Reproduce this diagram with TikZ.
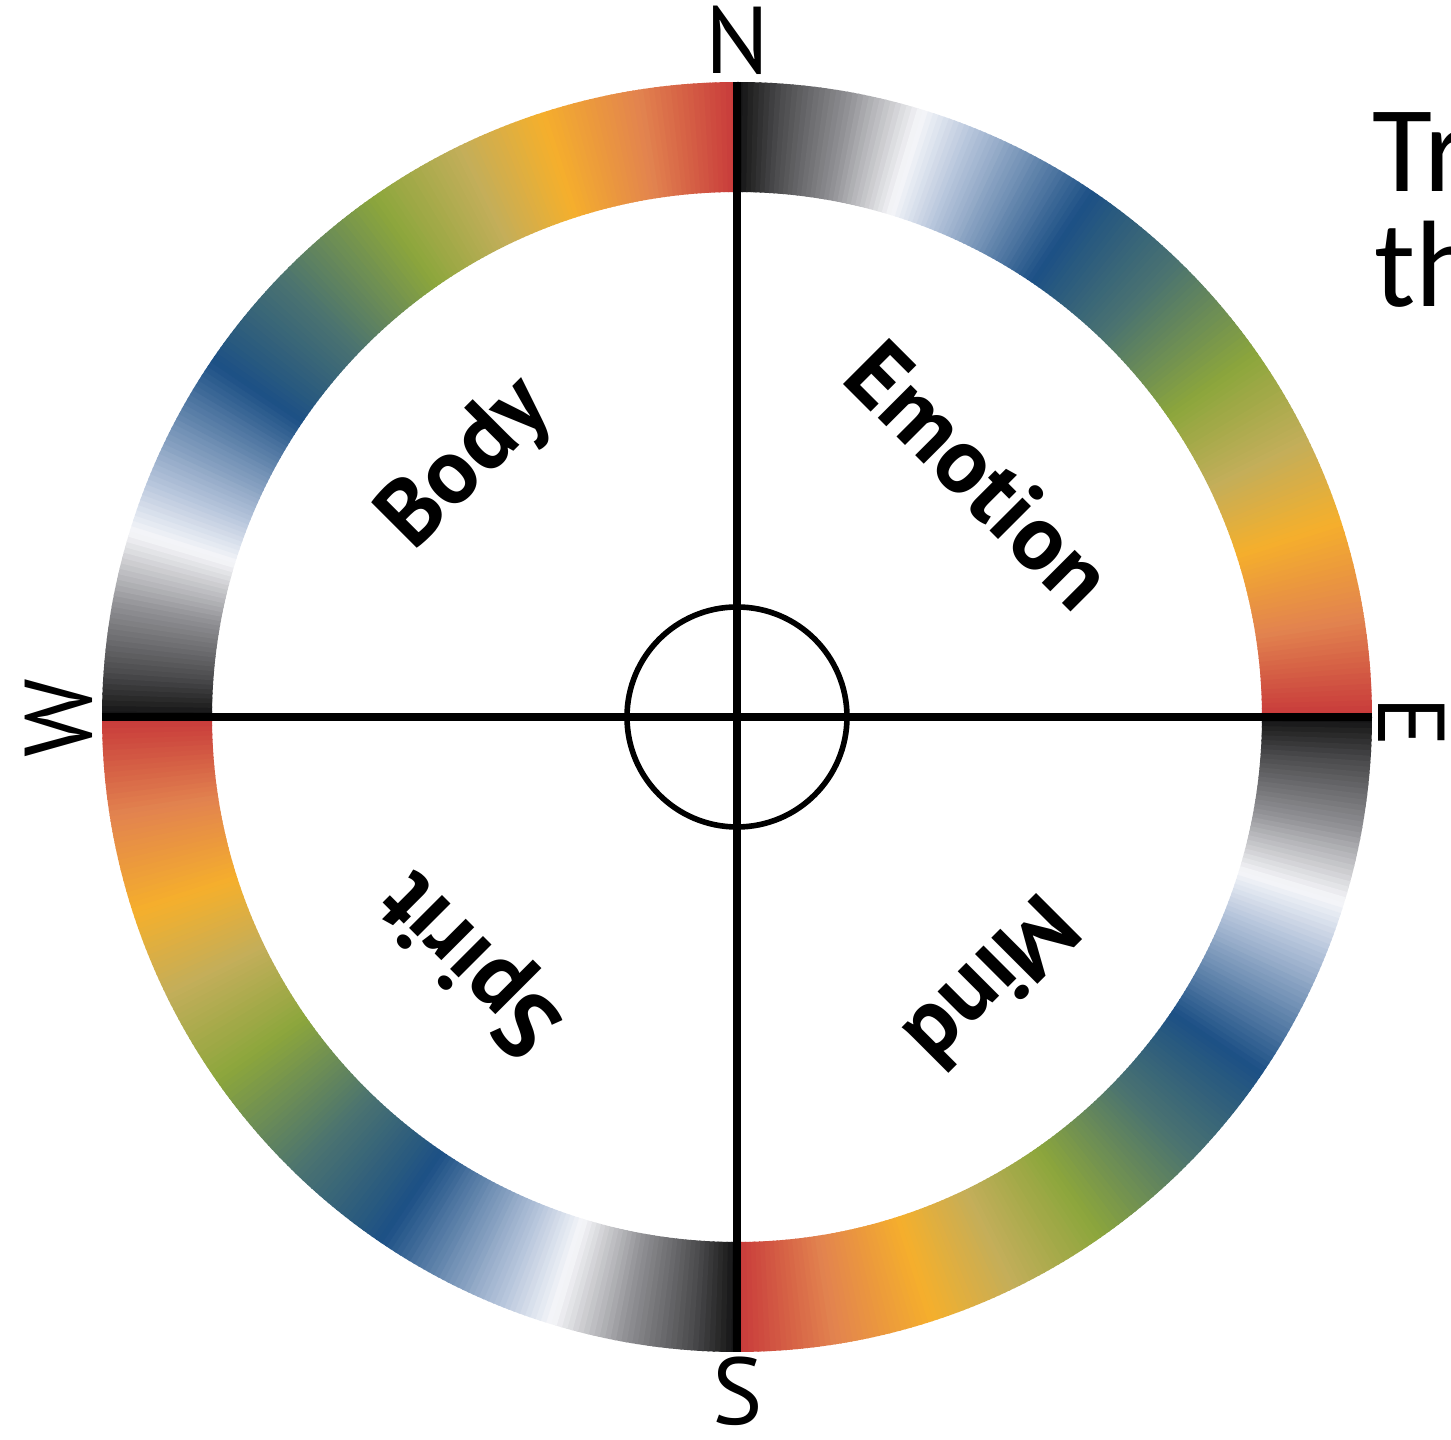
\documentclass[tikz,border=0pt]{standalone}
\usepackage{fontspec}
\newfontfamily\ptsans{PT Sans}
\newfontfamily\carlito{Carlito}
\usetikzlibrary{calc}

% colours of the ring, clockwise from each axis
\definecolor{wBlack}{HTML}{111111}
\definecolor{wDark}{HTML}{4A4A4C}
\definecolor{wGray}{HTML}{8E8E92}
\definecolor{wWhite}{HTML}{F6F7FA}
\definecolor{wSky}{HTML}{B4C3DA}
\definecolor{wBlue}{HTML}{1C5085}
\definecolor{wTeal}{HTML}{4B7370}
\definecolor{wGreen}{HTML}{8CA63C}
\definecolor{wKhaki}{HTML}{C3AE5A}
\definecolor{wYellow}{HTML}{F5AF2C}
\definecolor{wOrange}{HTML}{E2834F}
\definecolor{wRed}{HTML}{C7383A}

\tikzset{
  axisline/.style={line width=2pt},
  compass/.style={font=\ptsans\fontsize{27}{30}\selectfont, inner sep=0pt},
  quarter/.style={font=\ptsans\bfseries\fontsize{26.5}{30}\selectfont, inner sep=0pt},
  sidetext/.style={font=\carlito\fontsize{35}{40}\selectfont, inner sep=0pt, anchor=base west},
}

\begin{document}
\begin{tikzpicture}
  \clip (0,0) rectangle (14.51,14.40);
  \def\ri{5.25}
  \def\ro{6.35}
  \coordinate (O) at (7.37,7.23);
  \coordinate (N) at ($(O)+(0,\ro)$);
  \coordinate (S) at ($(O)+(0,-\ro)$);
  \coordinate (E) at ($(O)+(\ro,0)$);
  \coordinate (W) at ($(O)+(-\ro,0)$);
  % colour ring, half a degree at a time
  \begin{scope}[shift={(O)}]
    \foreach \q in {90,0,-90,-180}{
      \foreach \sa/\sb/\ca/\cb in {0/4/wBlack/wDark, 4/10/wDark/wGray, 10/17/wGray/wWhite,
          17/22/wWhite/wSky, 22/34/wSky/wBlue, 34/44/wBlue/wTeal, 44/55/wTeal/wGreen,
          55/64/wGreen/wKhaki, 64/72/wKhaki/wYellow, 72/81/wYellow/wOrange, 81/90/wOrange/wRed}{
        \pgfmathsetmacro\se{\sb-0.5}
        \pgfmathsetmacro\sn{\sa+0.5}
        \foreach \k in {\sa,\sn,...,\se}{
          \pgfmathtruncatemacro\pp{100*(\k+0.25-\sa)/(\sb-\sa)}
          \pgfmathsetmacro\ta{\q-\k}
          \pgfmathsetmacro\tb{\q-\k-0.65}
          \fill[\cb!\pp!\ca] (\ta:\ri) arc[start angle=\ta, end angle=\tb, radius=\ri]
            -- (\tb:\ro) arc[start angle=\tb, end angle=\ta, radius=\ro] -- cycle;
        }
      }
    }
  \end{scope}
  % cross and centre circle
  \draw[axisline] (N) -- (S);
  \draw[axisline] (W) -- (E);
  \draw[line width=1.6pt] (O) circle[radius=1.1];
  % compass letters
  \node[compass] (lN) at ($(O)+(0,6.77)$) {N};
  \node[compass, rotate=-90] (lE) at ($(O)+(6.75,-0.05)$) {E};
  \node[compass] (lS) at ($(O)+(0.01,-6.74)$) {S};
  \node[compass, rotate=90] (lW) at ($(O)+(-6.78,-0.01)$) {W};
  % the four quarters
  \node[quarter, rotate=45] (body) at ($(O)+(-2.70,2.52)$) {Body};
  \node[quarter, rotate=-45] (emotion) at ($(O)+(2.43,2.42)$) {Emotion};
  \node[quarter, rotate=-135] (mind) at ($(O)+(2.56,-2.66)$) {Mind};
  \node[quarter, rotate=135] (spirit) at ($(O)+(-2.63,-2.44)$) {Spirit};
  % text cut off at the right edge
  \node[sidetext] (tr) at (13.72,12.48) {Tr};
  \node[sidetext] (th) at (13.74,11.33) {th};
\end{tikzpicture}
\end{document}
